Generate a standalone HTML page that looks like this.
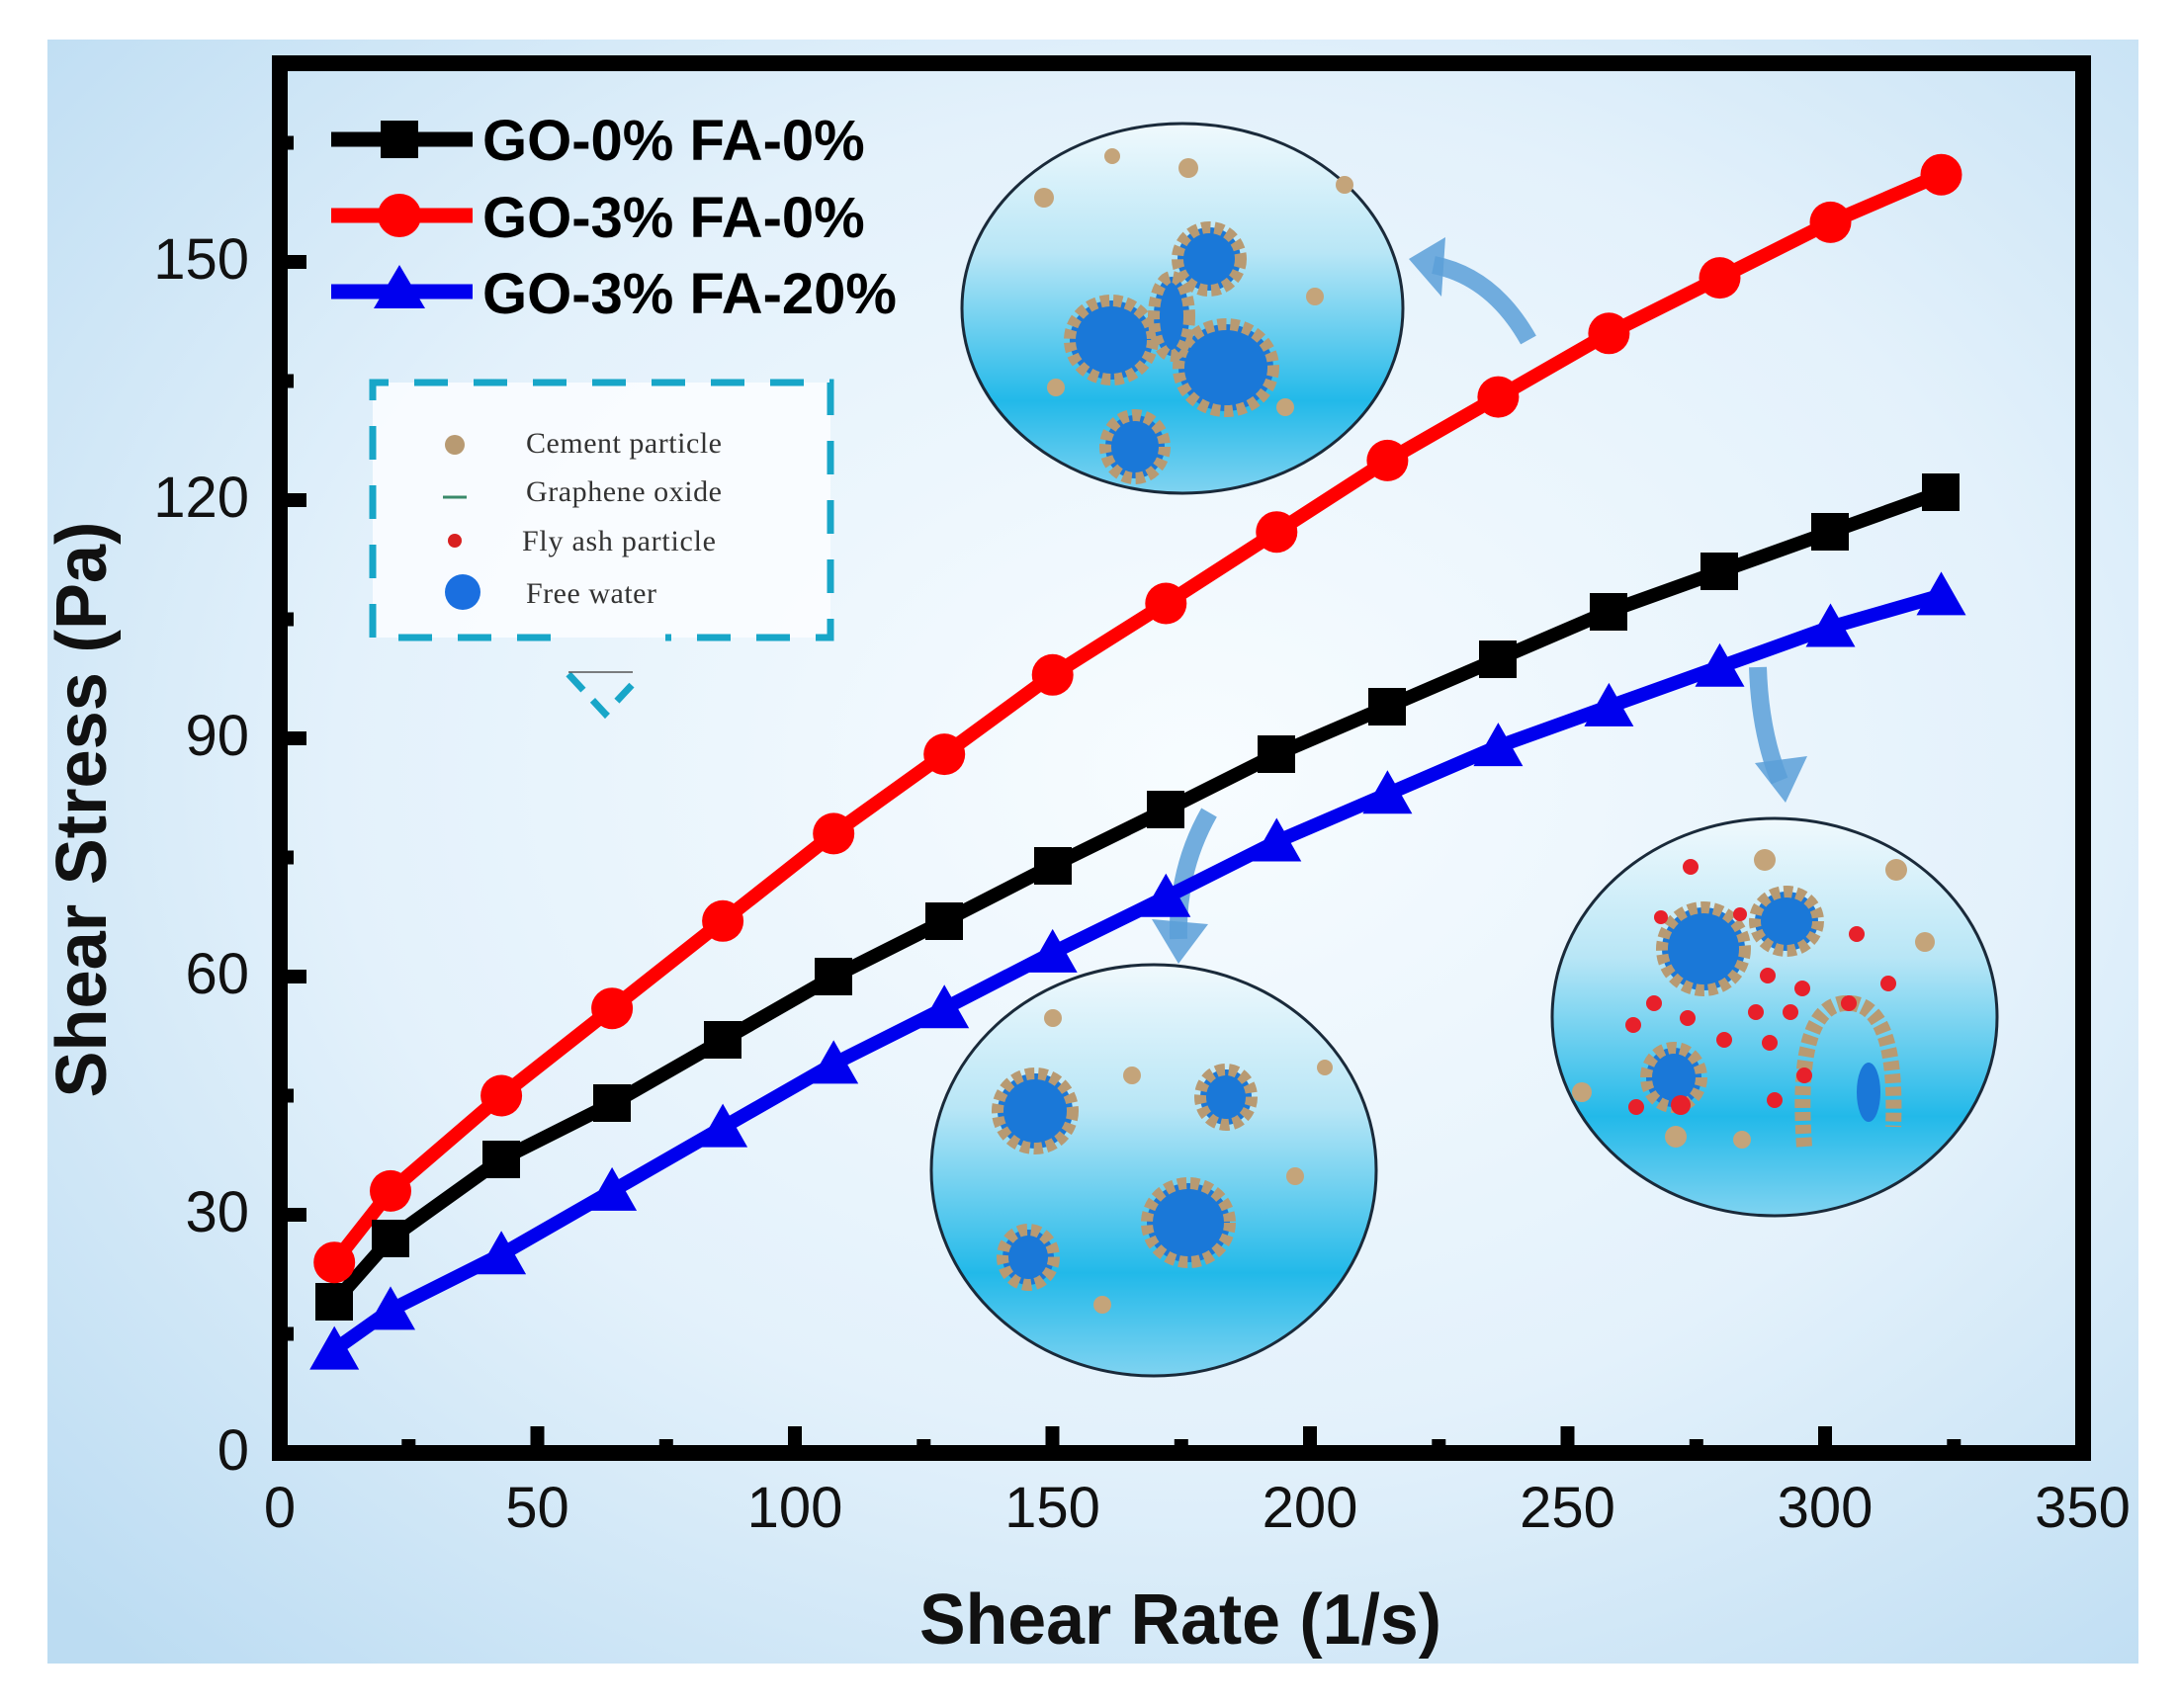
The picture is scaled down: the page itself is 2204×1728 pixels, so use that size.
<!DOCTYPE html>
<html><head><meta charset="utf-8"><style>html,body{margin:0;padding:0;background:#fff}svg{display:block}</style></head>
<body>
<svg width="2204" height="1728" viewBox="0 0 2204 1728" xmlns="http://www.w3.org/2000/svg">
<defs>
<radialGradient id="bg" cx="0.55" cy="0.45" r="0.75">
<stop offset="0" stop-color="#f7fcff"/><stop offset="0.55" stop-color="#e3f1fb"/><stop offset="1" stop-color="#bcdcf2"/>
</radialGradient>
<linearGradient id="cf" x1="0" y1="0" x2="0" y2="1">
<stop offset="0" stop-color="#f0f9fd"/><stop offset="0.35" stop-color="#b8e6f6"/><stop offset="0.75" stop-color="#22b9e9"/><stop offset="1" stop-color="#7fd3f1"/>
</linearGradient>
</defs>
<rect x="48" y="40" width="2115" height="1643" fill="url(#bg)"/>

<g stroke="#1a2a3a" stroke-width="3" fill="url(#cf)">
<ellipse cx="1196" cy="312" rx="223" ry="187"/>
<ellipse cx="1167" cy="1184" rx="225" ry="208"/>
<ellipse cx="1795" cy="1029" rx="225" ry="201"/>
</g>
<g fill="#1a78d8" stroke="#b89a72" stroke-width="12" stroke-dasharray="9 4">
<ellipse cx="1124" cy="344" rx="42" ry="40"/>
<ellipse cx="1223" cy="262" rx="32" ry="32"/>
<ellipse cx="1240" cy="372" rx="48" ry="44"/>
<ellipse cx="1148" cy="452" rx="30" ry="32"/>
<ellipse cx="1185" cy="320" rx="18" ry="40"/>
<ellipse cx="1047" cy="1124" rx="38" ry="38"/>
<ellipse cx="1202" cy="1237" rx="42" ry="40"/>
<ellipse cx="1240" cy="1110" rx="26" ry="28"/>
<ellipse cx="1040" cy="1272" rx="26" ry="28"/>
<ellipse cx="1723" cy="960" rx="42" ry="42"/>
<ellipse cx="1807" cy="932" rx="32" ry="30"/>
<ellipse cx="1693" cy="1090" rx="28" ry="30"/>
</g>
<path d="M1825 1160 Q1815 1020 1865 1015 Q1920 1010 1915 1140" fill="none" stroke="#b89a72" stroke-width="16" stroke-dasharray="9 4"/>
<ellipse cx="1890" cy="1105" rx="12" ry="30" fill="#1a78d8"/>
<g fill="#c4a47a">
<circle cx="1056" cy="200" r="10"/><circle cx="1125" cy="158" r="8"/><circle cx="1202" cy="170" r="10"/><circle cx="1360" cy="187" r="9"/><circle cx="1330" cy="300" r="9"/><circle cx="1068" cy="392" r="9"/><circle cx="1300" cy="412" r="9"/>
<circle cx="1065" cy="1030" r="9"/><circle cx="1145" cy="1088" r="9"/><circle cx="1310" cy="1190" r="9"/><circle cx="1115" cy="1320" r="9"/><circle cx="1340" cy="1080" r="8"/>
<circle cx="1785" cy="870" r="11"/><circle cx="1918" cy="880" r="11"/><circle cx="1947" cy="953" r="10"/><circle cx="1600" cy="1105" r="10"/><circle cx="1695" cy="1150" r="11"/><circle cx="1762" cy="1153" r="9"/>
</g>
<g fill="#e8202a">
<circle cx="1710" cy="877" r="8"/><circle cx="1878" cy="945" r="8"/><circle cx="1910" cy="995" r="8"/><circle cx="1788" cy="987" r="8"/><circle cx="1823" cy="1000" r="8"/><circle cx="1673" cy="1015" r="8"/><circle cx="1652" cy="1037" r="8"/><circle cx="1707" cy="1030" r="8"/><circle cx="1776" cy="1024" r="8"/><circle cx="1811" cy="1024" r="8"/><circle cx="1744" cy="1052" r="8"/><circle cx="1790" cy="1055" r="8"/><circle cx="1825" cy="1088" r="8"/><circle cx="1795" cy="1113" r="8"/><circle cx="1655" cy="1120" r="8"/><circle cx="1700" cy="1118" r="10"/><circle cx="1870" cy="1015" r="8"/><circle cx="1760" cy="925" r="7"/><circle cx="1680" cy="928" r="7"/>
</g>

<g fill="none" stroke="#5a9fd8" stroke-opacity="0.85" stroke-width="18">
<path d="M1546 344 Q1510 280 1450 268"/>
<path d="M1223 822 Q1190 880 1192 950"/>
<path d="M1778 675 Q1780 740 1800 790"/>
</g>
<g fill="#5a9fd8" fill-opacity="0.85">
<polygon points="1425,262 1462,240 1458,300"/>
<polygon points="1192,975 1165,930 1222,935"/>
<polygon points="1806,812 1775,772 1828,765"/>
</g>

<rect x="377" y="387" width="463" height="258" fill="#fbfdff" fill-opacity="0.85"/>
<path d="M557 645 L377 645 L377 387 L840 387 L840 645 L673 645" fill="none" stroke="#18a6c8" stroke-width="7" stroke-dasharray="34 26"/>
<path d="M575 682 L612 722 L640 692" fill="none" stroke="#18a6c8" stroke-width="7" stroke-dasharray="22 14"/>
<line x1="575" y1="680" x2="640" y2="680" stroke="#555" stroke-width="1.5"/>
<g font-family="Liberation Serif, serif" font-size="30" fill="#333" lengthAdjust="spacingAndGlyphs">
<text x="532" y="458" textLength="198">Cement particle</text>
<text x="532" y="507" textLength="198">Graphene oxide</text>
<text x="528" y="557" textLength="196">Fly ash particle</text>
<text x="532" y="610" textLength="132">Free water</text>
</g>
<circle cx="460" cy="450" r="10" fill="#b89a72"/>
<line x1="448" y1="503" x2="472" y2="503" stroke="#3a8a6a" stroke-width="3"/>
<circle cx="460" cy="547" r="7" fill="#d82020"/>
<circle cx="468" cy="599" r="18" fill="#1a6fe0"/>

<g stroke="#000" stroke-width="14">
<path d="M283 1470v-27M543.5 1470v-14M804 1470v-27M1064.5 1470v-14M1325 1470v-27M1585.5 1470v-14M1846 1470v-27M2106.5 1470v-14M413.3 1470v-14M673.8 1470v-14M934.3 1470v-14M1194.8 1470v-14M1455.3 1470v-14M1715.8 1470v-14M1976.3 1470v-14M543.5 1470v-27M1064.5 1470v-27M1585.5 1470v-27"/>
<path d="M283 1229h27M283 988h27M283 747h27M283 506h27M283 265h27M283 1349.5h14M283 1108.5h14M283 867.5h14M283 626.5h14M283 385.5h14M283 144.5h14"/>
</g>
<rect x="283" y="64" width="1824" height="1406" fill="none" stroke="#000" stroke-width="16"/>

<polyline fill="none" stroke="#000" stroke-width="14" points="338.2,1317.4 395,1253.1 507.1,1172.8 619.1,1116.5 731.1,1052.3 843.2,988 955.2,931.8 1064.7,875.6 1179.3,819.3 1291.3,763.1 1403.4,714.9 1515.4,666.7 1627.4,618.5 1739.5,578.3 1851.5,538.2 1963.5,498"/>
<polyline fill="none" stroke="#ff0000" stroke-width="14" points="338.2,1277.2 395,1204.9 507.1,1108.5 619.1,1020.2 731.1,931.8 843.2,843.4 955.2,763.1 1064.7,682.8 1179.3,610.5 1291.3,538.2 1403.4,465.9 1515.4,401.6 1627.4,337.3 1739.5,281.1 1851.5,224.9 1963.5,176.7"/>
<polyline fill="none" stroke="#0000ee" stroke-width="14" points="338.2,1365.6 395,1325.4 507.1,1269.2 619.1,1204.9 731.1,1140.6 843.2,1076.4 955.2,1020.2 1064.7,963.9 1179.3,907.7 1291.3,851.5 1403.4,803.3 1515.4,755.1 1627.4,714.9 1739.5,674.7 1851.5,634.5 1963.5,602.4"/>
<g fill="#000">
<rect x="319" y="1298" width="38" height="38"/><rect x="376" y="1234" width="38" height="38"/><rect x="488" y="1154" width="38" height="38"/><rect x="600" y="1097" width="38" height="38"/><rect x="712" y="1033" width="38" height="38"/><rect x="824" y="969" width="38" height="38"/><rect x="936" y="913" width="38" height="38"/><rect x="1046" y="857" width="38" height="38"/><rect x="1160" y="800" width="38" height="38"/><rect x="1272" y="744" width="38" height="38"/><rect x="1384" y="696" width="38" height="38"/><rect x="1496" y="648" width="38" height="38"/><rect x="1608" y="600" width="38" height="38"/><rect x="1720" y="559" width="38" height="38"/><rect x="1832" y="519" width="38" height="38"/><rect x="1944" y="479" width="38" height="38"/>
</g>
<g fill="#ff0000">
<circle cx="338.2" cy="1277.2" r="21"/><circle cx="395" cy="1204.9" r="21"/><circle cx="507.1" cy="1108.5" r="21"/><circle cx="619.1" cy="1020.2" r="21"/><circle cx="731.1" cy="931.8" r="21"/><circle cx="843.2" cy="843.4" r="21"/><circle cx="955.2" cy="763.1" r="21"/><circle cx="1064.7" cy="682.8" r="21"/><circle cx="1179.3" cy="610.5" r="21"/><circle cx="1291.3" cy="538.2" r="21"/><circle cx="1403.4" cy="465.9" r="21"/><circle cx="1515.4" cy="401.6" r="21"/><circle cx="1627.4" cy="337.3" r="21"/><circle cx="1739.5" cy="281.1" r="21"/><circle cx="1851.5" cy="224.9" r="21"/><circle cx="1963.5" cy="176.7" r="21"/>
</g>
<g fill="#0000ee">
<path d="M338.2,1341.6l25,44h-50z M395,1301.4l25,44h-50z M507.1,1245.2l25,44h-50z M619.1,1180.9l25,44h-50z M731.1,1116.6l25,44h-50z M843.2,1052.4l25,44h-50z M955.2,996.2l25,44h-50z M1064.7,939.9l25,44h-50z M1179.3,883.7l25,44h-50z M1291.3,827.5l25,44h-50z M1403.4,779.3l25,44h-50z M1515.4,731.1l25,44h-50z M1627.4,690.9l25,44h-50z M1739.5,650.7l25,44h-50z M1851.5,610.5l25,44h-50z M1963.5,578.4l25,44h-50z"/>
</g>

<line x1="335" y1="141" x2="478" y2="141" stroke="#000" stroke-width="15"/>
<rect x="385" y="122" width="38" height="38" fill="#000"/>
<line x1="335" y1="218" x2="478" y2="218" stroke="#ff0000" stroke-width="15"/>
<circle cx="404" cy="218" r="22" fill="#ff0000"/>
<line x1="335" y1="295" x2="478" y2="295" stroke="#0000ee" stroke-width="15"/>
<path d="M404 268l26 44h-52z" fill="#0000ee"/>
<g font-family="Liberation Sans, sans-serif" font-weight="bold" font-size="58" fill="#000">
<text x="488" y="162">GO-0% FA-0%</text>
<text x="488" y="240">GO-3% FA-0%</text>
<text x="488" y="317">GO-3% FA-20%</text>
</g>

<g font-family="Liberation Sans, sans-serif" font-size="58" fill="#111" text-anchor="end">
<text x="252" y="1487">0</text><text x="252" y="1246">30</text><text x="252" y="1005">60</text><text x="252" y="764">90</text><text x="252" y="523">120</text><text x="252" y="282">150</text>
</g>
<g font-family="Liberation Sans, sans-serif" font-size="58" fill="#111" text-anchor="middle">
<text x="283" y="1545">0</text><text x="543.5" y="1545">50</text><text x="804" y="1545">100</text><text x="1064.5" y="1545">150</text><text x="1325" y="1545">200</text><text x="1585.5" y="1545">250</text><text x="1846" y="1545">300</text><text x="2106.5" y="1545">350</text>
</g>
<text x="1194" y="1663" text-anchor="middle" font-family="Liberation Sans, sans-serif" font-weight="bold" font-size="72" textLength="528" lengthAdjust="spacingAndGlyphs" fill="#111">Shear Rate (1/s)</text>
<text transform="translate(107,819) rotate(-90)" text-anchor="middle" font-family="Liberation Sans, sans-serif" font-weight="bold" font-size="72" textLength="583" lengthAdjust="spacingAndGlyphs" fill="#111">Shear Stress (Pa)</text>
</svg>
</body></html>
